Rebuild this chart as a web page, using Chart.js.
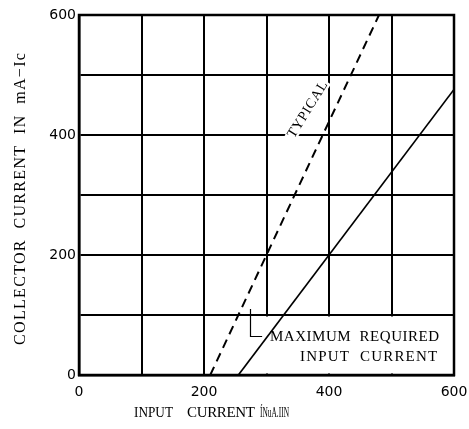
<!DOCTYPE html>
<html>
<head>
<meta charset="utf-8">
<script src="https://cdn.jsdelivr.net/npm/chart.js@4"></script>
<style>
  html, body { margin: 0; padding: 0; background: #fff; }
  #wrap { width: 469px; height: 429px; }
</style>
</head>
<body>
<div id="wrap"><canvas id="c" width="469" height="429"></canvas></div>
<script>
// ---- data ----
const xTickLabels = { 0: "0", 200: "200", 400: "400", 600: "600" };
const yTickLabels = { 0: "0", 200: "200", 400: "400", 600: "600" };
const typicalInput = [210, 480];      // µA
const typicalCollector = [0, 600];    // mA
const maxReqInput = [255, 600];       // µA
const maxReqCollector = [0, 476];     // mA
const xTitleParts = ["INPUT", "CURRENT", "ÍNuA.IIN"];
const yTitle = "COLLECTOR  CURRENT  IN  mA\u2212Ic";
const typicalLabel = "TYPICAL";
const maxLabel1 = "MAXIMUM  REQUIRED";
const maxLabel2 = "INPUT  CURRENT";

const toPoints = (xs, ys) => xs.map((x, i) => ({ x: x, y: ys[i] }));

function fitText(ctx, text, x, y, target, align) {
  ctx.letterSpacing = "0px";
  const w = ctx.measureText(text).width;
  const n = Math.max(text.length - 1, 1);
  let ls = (target - w) / n;
  ctx.textAlign = align;
  if (ls >= -0.6) {
    ctx.letterSpacing = ls.toFixed(2) + "px";
    let dx = 0;
    if (align === "center") dx = ls / 2;
    else if (align === "right") dx = ls;
    ctx.fillText(text, x + dx, y);
    ctx.letterSpacing = "0px";
  } else {
    ctx.save();
    ctx.translate(x, y);
    ctx.scale(target / w, 1);
    ctx.fillText(text, 0, 0);
    ctx.restore();
  }
}

const decor = {
  id: "decor",
  beforeDatasetsDraw(chart) {
    const ctx = chart.ctx, xs = chart.scales.x, ys = chart.scales.y;
    ctx.save();
    ctx.fillStyle = "#fff";
    const bx0 = xs.getPixelForValue(215), bx1 = xs.getPixelForValue(600);
    const by0 = ys.getPixelForValue(100), by1 = ys.getPixelForValue(0);
    ctx.fillRect(bx0, by0 + 1.5, bx1 - bx0 - 1.5, by1 - by0 - 3);
    const tx = xs.getPixelForValue(366), ty = ys.getPixelForValue(442);
    ctx.translate(tx, ty);
    ctx.rotate(-58 * Math.PI / 180);
    ctx.fillRect(-34, -6, 68, 12);
    ctx.restore();
  },
  afterDatasetsDraw(chart) {
    const ctx = chart.ctx, xs = chart.scales.x, ys = chart.scales.y;
    ctx.save();
    ctx.fillStyle = "#000";
    ctx.strokeStyle = "#000";
    ctx.textBaseline = "middle";
    ctx.save();
    ctx.translate(xs.getPixelForValue(366), ys.getPixelForValue(442));
    ctx.rotate(-58 * Math.PI / 180);
    ctx.font = "14px 'Liberation Serif'";
    fitText(ctx, typicalLabel, 0, 0, 64, "center");
    ctx.restore();
    ctx.font = "15px 'Liberation Serif'";
    fitText(ctx, maxLabel1, xs.getPixelForValue(576), ys.getPixelForValue(63), 169, "right");
    fitText(ctx, maxLabel2, xs.getPixelForValue(573), ys.getPixelForValue(30), 137, "right");
    ctx.lineWidth = 1.2;
    ctx.beginPath();
    const lx = Math.round(xs.getPixelForValue(274)) + 0.5;
    ctx.moveTo(lx, ys.getPixelForValue(110));
    ctx.lineTo(lx, Math.round(ys.getPixelForValue(65)) + 0.5);
    ctx.lineTo(xs.getPixelForValue(293), Math.round(ys.getPixelForValue(65)) + 0.5);
    ctx.stroke();
    ctx.restore();
  },
  afterDraw(chart) {
    const ctx = chart.ctx, ca = chart.chartArea;
    ctx.save();
    ctx.fillStyle = "#000";
    ctx.textBaseline = "middle";
    ctx.font = "15px 'Liberation Serif'";
    const ty = ca.bottom + 38;
    fitText(ctx, xTitleParts[0], ca.left + 55, ty, 39, "left");
    fitText(ctx, xTitleParts[1], ca.left + 108, ty, 68, "left");
    fitText(ctx, xTitleParts[2], ca.left + 181, ty, 29, "left");
    ctx.save();
    ctx.translate(21, (ca.top + ca.bottom) / 2 + 4);
    ctx.rotate(-Math.PI / 2);
    ctx.font = "16px 'Liberation Serif'";
    fitText(ctx, yTitle, 0, 0, 292, "center");
    ctx.restore();
    ctx.restore();
  }
};

new Chart(document.getElementById("c"), {
  type: "scatter",
  data: {
    datasets: [
      {
        label: "Typical",
        data: toPoints(typicalInput, typicalCollector),
        showLine: true,
        borderColor: "#000",
        borderWidth: 2,
        borderDash: [9, 6],
        pointRadius: 0,
        fill: false
      },
      {
        label: "Maximum required input current",
        data: toPoints(maxReqInput, maxReqCollector),
        showLine: true,
        borderColor: "#000",
        borderWidth: 1.7,
        pointRadius: 0,
        fill: false
      }
    ]
  },
  options: {
    responsive: false,
    animation: false,
    devicePixelRatio: 1,
    layout: { padding: { top: 15, right: 15, left: 0, bottom: 0 } },
    plugins: { legend: { display: false }, tooltip: { enabled: false } },
    scales: {
      x: {
        type: "linear",
        min: 0, max: 600,
        afterFit(scale) { scale.height = 54; scale.paddingRight = 0; scale.paddingLeft = 0; },
        ticks: {
          stepSize: 100,
          autoSkip: false,
          maxRotation: 0,
          padding: 9,
          color: "#000",
          font: { family: "'DejaVu Sans'", size: 14 },
          callback: (v) => (xTickLabels[v] !== undefined ? xTickLabels[v] : "")
        },
        grid: { color: "#000", lineWidth: 2, drawTicks: false },
        border: { color: "#000", width: 2.5 }
      },
      y: {
        type: "linear",
        min: 0, max: 600,
        afterFit(scale) { scale.width = 79; scale.paddingTop = 0; scale.paddingBottom = 0; },
        ticks: {
          stepSize: 100,
          autoSkip: false,
          padding: 3,
          color: "#000",
          font: { family: "'DejaVu Sans'", size: 14 },
          callback: (v) => (yTickLabels[v] !== undefined ? yTickLabels[v] : "")
        },
        grid: { color: "#000", lineWidth: 2, drawTicks: false },
        border: { color: "#000", width: 2.5 }
      }
    }
  },
  plugins: [decor, {
    id: "frame",
    afterDatasetsDraw(chart) {
      const ctx = chart.ctx, ca = chart.chartArea;
      ctx.save();
      ctx.strokeStyle = "#000";
      ctx.lineWidth = 2.5;
      ctx.strokeRect(ca.left, ca.top, ca.right - ca.left, ca.bottom - ca.top);
      ctx.restore();
    }
  }]
});
</script>
</body>
</html>
